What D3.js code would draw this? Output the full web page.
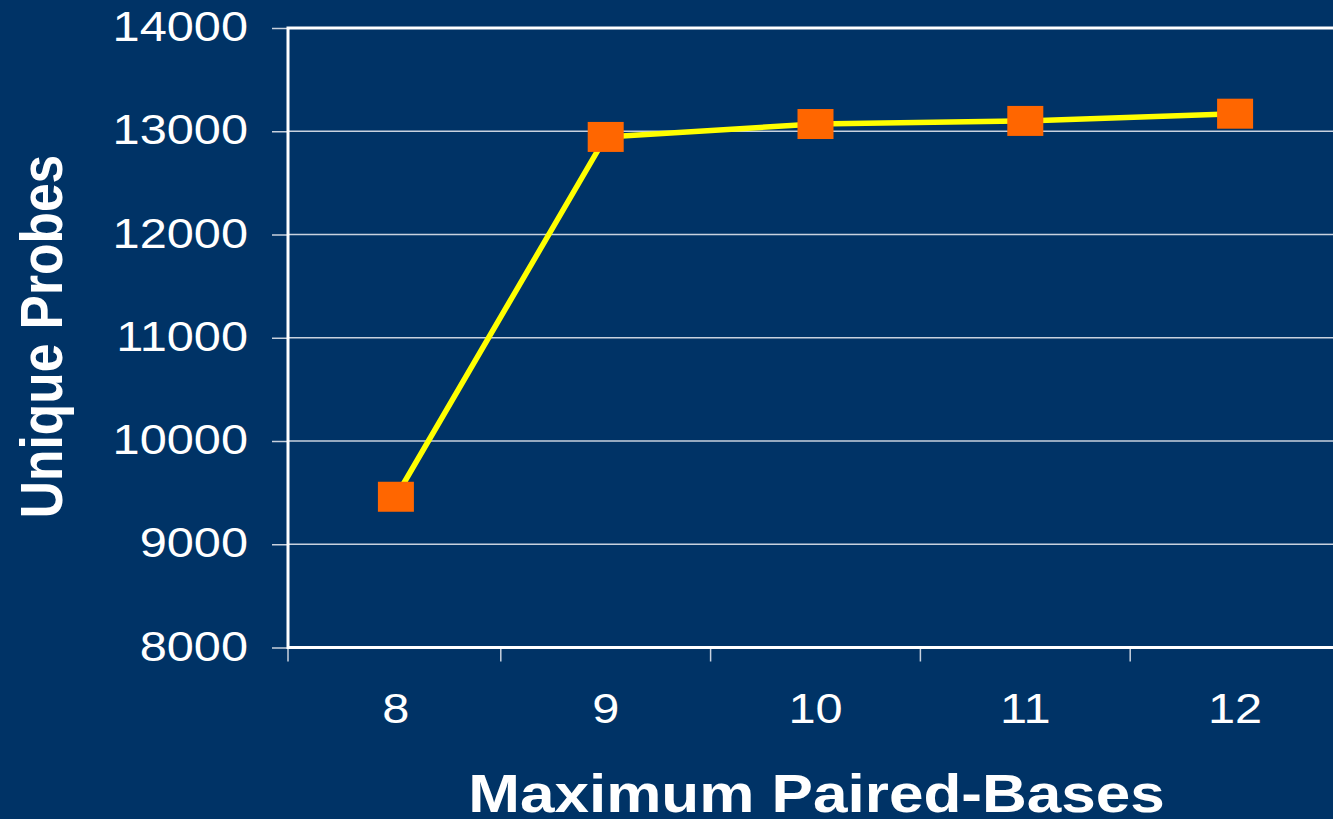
<!DOCTYPE html>
<html>
<head>
<meta charset="utf-8">
<script src="https://cdn.jsdelivr.net/npm/d3@7"></script>
<style>
  html, body { margin: 0; padding: 0; background: #003366; overflow: hidden; }
  svg { display: block; }
  text { font-family: "Liberation Sans", Arial, Helvetica, sans-serif; fill: #ffffff; }
</style>
</head>
<body>
<svg id="chart" width="1333" height="819"></svg>
<script>
// Unique probe counts by maximum number of paired bases
const categories = ["8", "9", "10", "11", "12"];
const uniqueProbes = [9460, 12945, 13070, 13100, 13170];
const yTicks = [8000, 9000, 10000, 11000, 12000, 13000, 14000];

const W = 1333, H = 819;
const plot = { left: 288, top: 28, bottom: 647.5, right: 1340 };
const stretch = 1.16;  // glyphs are drawn slightly wide

const svg = d3.select("#chart");
svg.append("rect").attr("width", W).attr("height", H).attr("fill", "#003366");

const x = d3.scaleBand().domain(categories).range([291, 1340]).padding(0);
const y = d3.scaleLinear().domain([8000, 14000]).range([plot.bottom, plot.top]);

// horizontal gridlines
svg.append("g")
  .selectAll("line")
  .data(yTicks.filter(v => v > 8000 && v < 14000))
  .join("line")
  .attr("x1", plot.left).attr("x2", plot.right)
  .attr("y1", d => y(d)).attr("y2", d => y(d))
  .attr("stroke", "#c9d2de").attr("stroke-width", 1.5);

// y axis
const yAxis = svg.append("g")
  .attr("transform", `translate(${plot.left},0)`)
  .call(d3.axisLeft(y).tickValues(yTicks).tickSize(16).tickFormat(d3.format("d")));
yAxis.select(".domain").remove();
yAxis.selectAll(".tick line").attr("stroke", "#c9d2de").attr("stroke-width", 1.5);
yAxis.selectAll(".tick text")
  .attr("x", null).attr("dy", null)
  .attr("transform", `translate(-40,12.5) scale(${stretch},1)`)
  .attr("text-anchor", "end")
  .style("font-size", "42px")
  .attr("fill", "#ffffff");

// x axis: ticks on category boundaries, labels at category centres
const boundaries = [plot.left].concat(categories.slice(1).map(c => x(c)));
svg.append("g")
  .selectAll("line")
  .data(boundaries)
  .join("line")
  .attr("x1", d => d).attr("x2", d => d)
  .attr("y1", plot.bottom).attr("y2", plot.bottom + 14)
  .attr("stroke", "#c9d2de").attr("stroke-width", 1.5);

svg.append("g")
  .selectAll("text")
  .data(categories)
  .join("text")
  .attr("transform", d => `translate(${x(d) + x.bandwidth() / 2},${plot.bottom + 75.5}) scale(${stretch},1)`)
  .attr("text-anchor", "middle")
  .style("font-size", "42px")
  .text(d => d);

// plot frame
svg.append("path")
  .attr("d", `M${plot.right},${plot.top}H${plot.left}V${plot.bottom}H${plot.right}`)
  .attr("fill", "none").attr("stroke", "#ffffff").attr("stroke-width", 3);

// data line
const line = d3.line()
  .x((d, i) => x(categories[i]) + x.bandwidth() / 2)
  .y(d => y(d));
svg.append("path")
  .datum(uniqueProbes)
  .attr("d", line)
  .attr("fill", "none")
  .attr("stroke", "#ffff00")
  .attr("stroke-width", 5.5)
  .attr("stroke-linejoin", "round");

// square markers
const mw = 36, mh = 30;
svg.append("g")
  .selectAll("rect")
  .data(uniqueProbes)
  .join("rect")
  .attr("x", (d, i) => x(categories[i]) + x.bandwidth() / 2 - mw / 2)
  .attr("y", d => y(d) - mh / 2)
  .attr("width", mw).attr("height", mh)
  .attr("fill", "#ff6600");

// axis titles
svg.append("text")
  .attr("transform", `translate(816.5,812) scale(1.16,1)`)
  .attr("text-anchor", "middle")
  .style("font-size", "53.5px").style("font-weight", "bold")
  .text("Maximum Paired-Bases");

svg.append("text")
  .attr("transform", `translate(62,336.5) rotate(-90) scale(1,1.16)`)
  .attr("text-anchor", "middle")
  .style("font-size", "51.5px").style("font-weight", "bold")
  .text("Unique Probes");
</script>
</body>
</html>
